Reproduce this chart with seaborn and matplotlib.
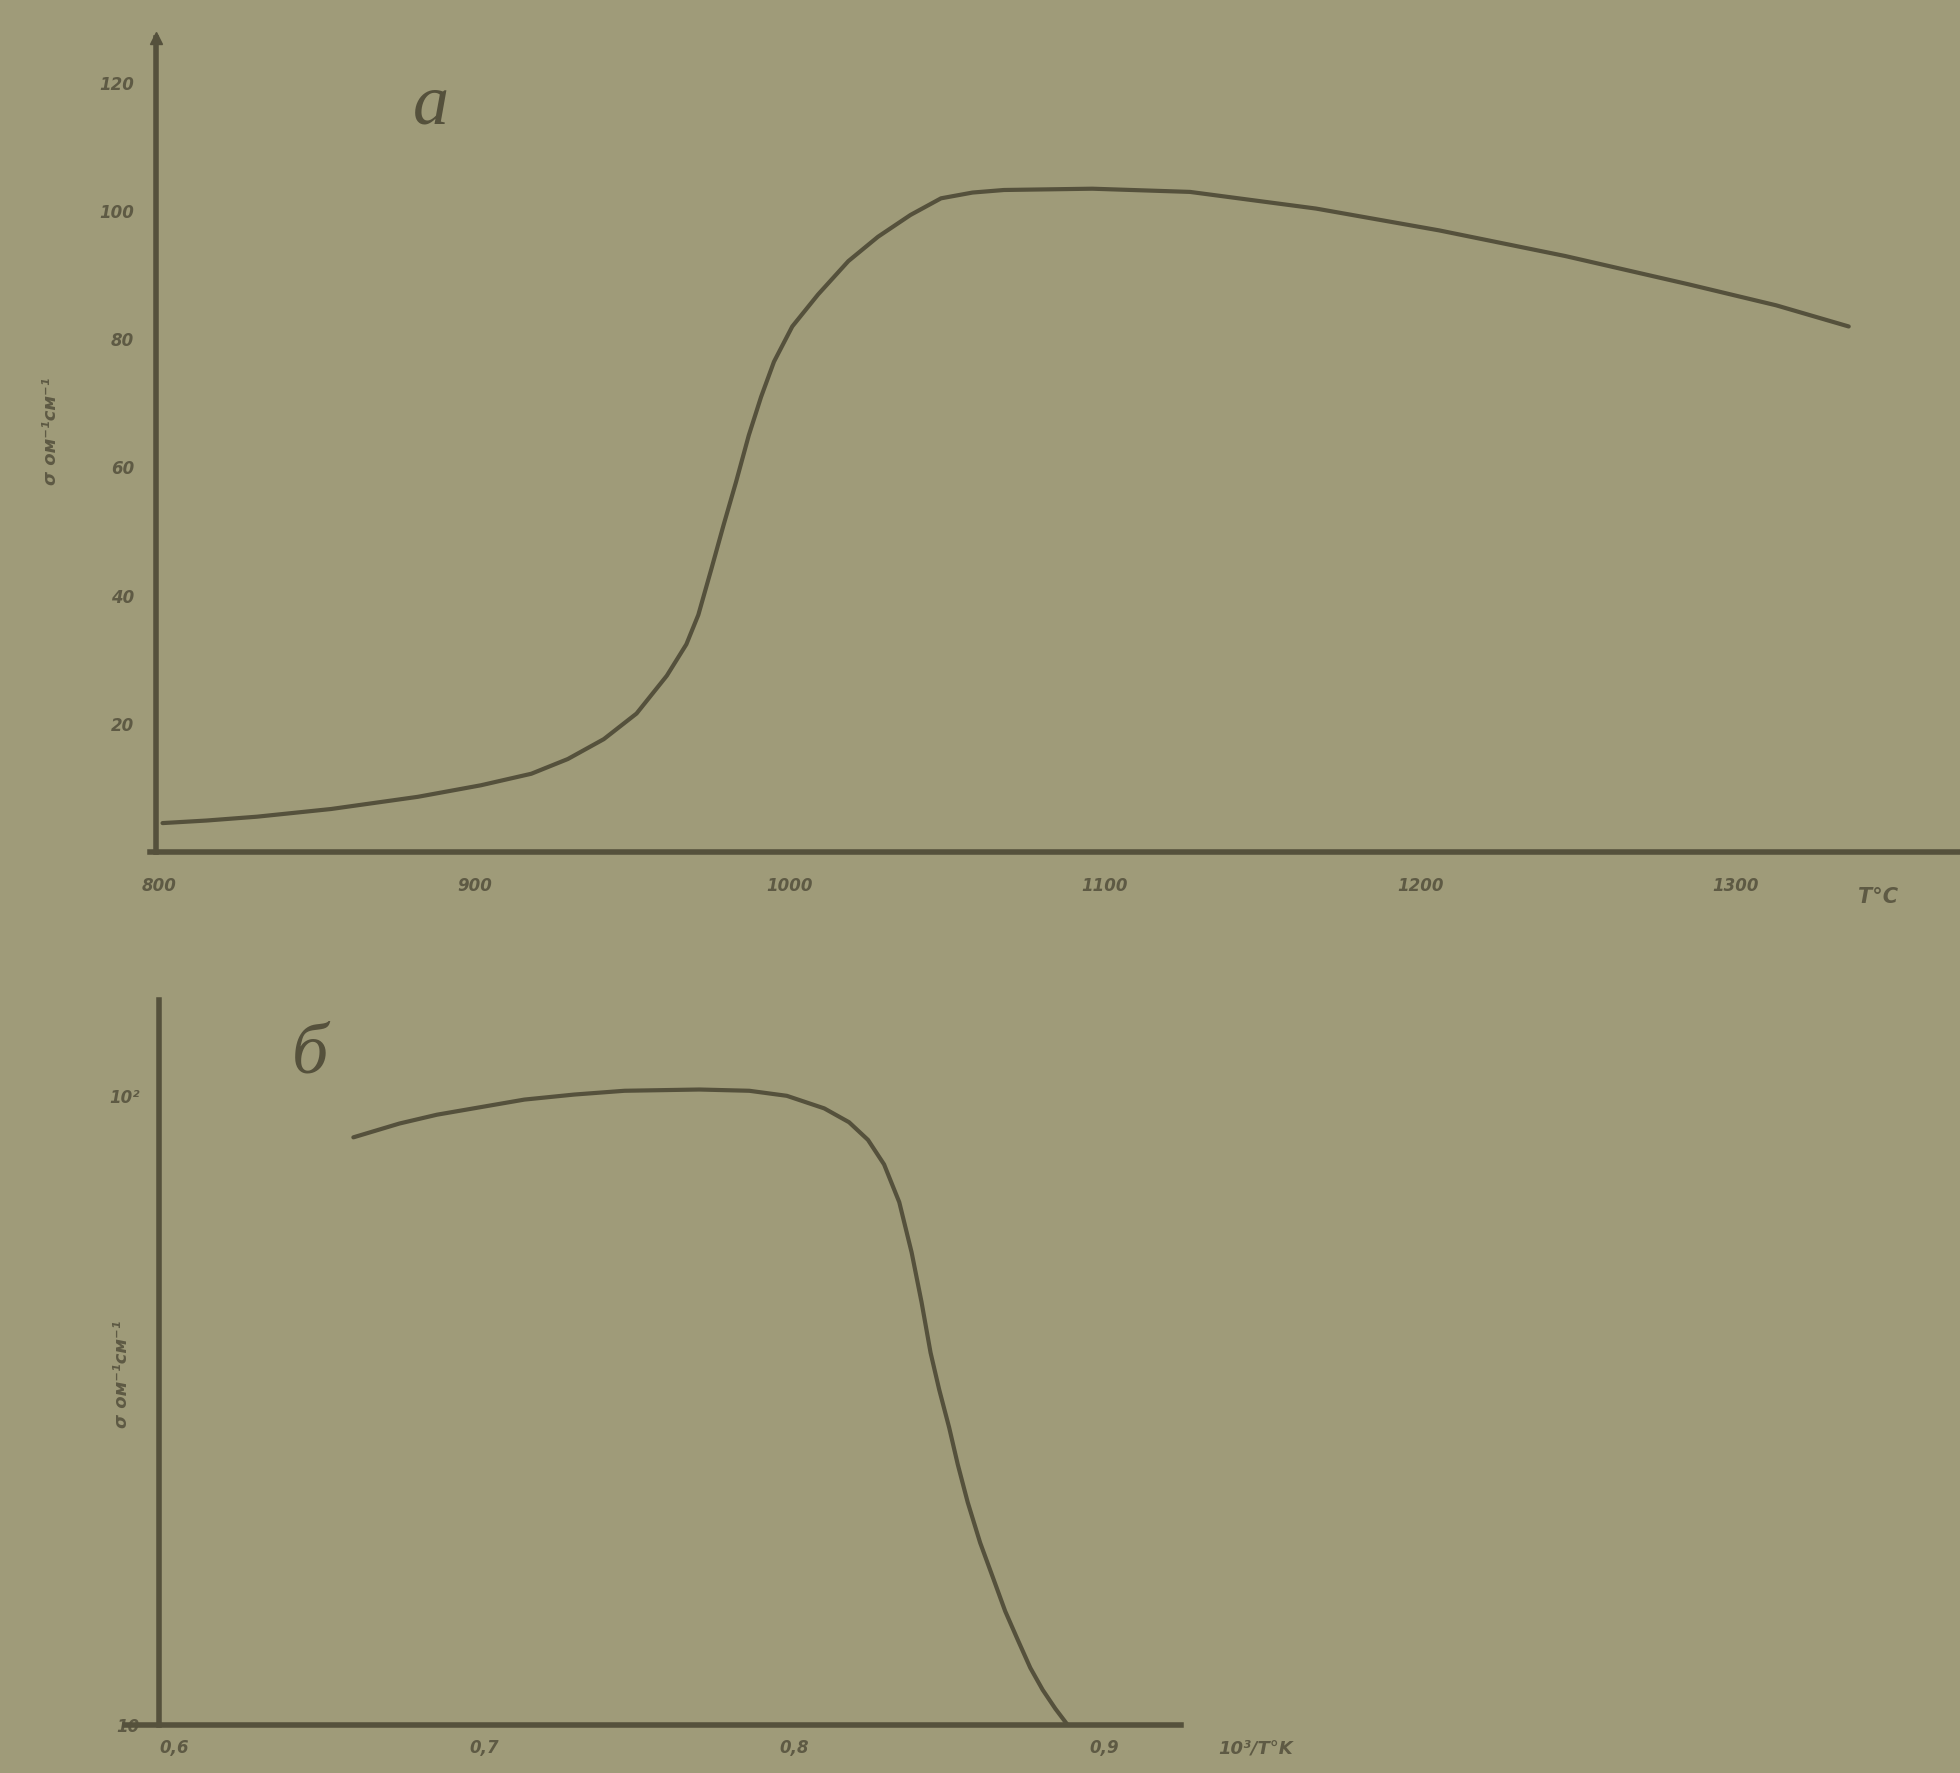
import numpy as np
import pandas as pd
import matplotlib
matplotlib.use("Agg")
import matplotlib.pyplot as plt
import seaborn as sns

# ---- data ----
temp_c = [801, 815, 831, 854.5, 882, 902, 918, 929.6, 941, 951.4, 961, 967.2,
          971, 975.1, 979, 983, 987, 990.9, 995, 1000.8, 1009, 1018.6, 1028,
          1038.3, 1048, 1058, 1068, 1096, 1127, 1167, 1206, 1246, 1285, 1313,
          1336]
sigma_a = [4.5, 4.9, 5.5, 6.7, 8.6, 10.4, 12.2, 14.5, 17.6, 21.6, 27.5, 32.4,
           37, 44.1, 51, 57.8, 65, 71, 76.5, 82, 87, 92.2, 96,
           99.4, 102, 102.9, 103.3, 103.5, 103, 100.4, 97, 93, 88.6, 85.3,
           82]

inv_t = [0.6577, 0.6726, 0.6847, 0.6988, 0.7129, 0.729, 0.7452, 0.7694,
         0.7855, 0.7976, 0.8097, 0.8177, 0.8238, 0.829, 0.8339, 0.8379,
         0.8411, 0.844, 0.8468, 0.850, 0.8528, 0.856, 0.860, 0.8641, 0.8681,
         0.8722, 0.8762, 0.8802, 0.8843, 0.8883]
log_sigma_b = [1.934, 1.956, 1.970, 1.982, 1.994, 2.002, 2.008, 2.010, 2.008,
               2.000, 1.980, 1.958, 1.930, 1.891, 1.831, 1.751, 1.672, 1.592,
               1.533, 1.473, 1.414, 1.354, 1.290, 1.235, 1.181, 1.135, 1.091,
               1.056, 1.026, 1.0]

top_xticks = [800, 900, 1000, 1100, 1200, 1300]
top_xticklabels = ["800", "900", "1000", "1100", "1200", "1300"]
top_yticks = [20, 40, 60, 80, 100, 120]
top_yticklabels = ["20", "40", "60", "80", "100", "120"]
bot_xticks = [0.6, 0.7, 0.8, 0.9]
bot_xticklabels = ["0,6", "0,7", "0,8", "0,9"]
bot_yticks = [10, 100]
bot_yticklabels = ["10", "10²"]

df_a = pd.DataFrame({"T": temp_c, "sigma": sigma_a})
df_b = pd.DataFrame({"x": inv_t, "sigma": [10 ** v for v in log_sigma_b]})

sns.set_style("white")
plt.rcParams['font.family'] = ['DejaVu Sans']

BG = "#9f9b79"
INK = "#55513c"
TXT = "#5e5a44"

fig = plt.figure(figsize=(19.6, 17.73), dpi=100, facecolor=BG)

# ---------- panel a ----------
ax1 = fig.add_axes([0.0765, 0.5195, 0.923, 0.459])
ax1.set_facecolor(BG)
sns.lineplot(data=df_a, x="T", y="sigma", ax=ax1, color=INK, linewidth=3.0)
ax1.set_xlim(797, 1371)
ax1.set_ylim(0, 127)
for s in ["top", "right"]:
    ax1.spines[s].set_visible(False)
for s in ["left", "bottom"]:
    ax1.spines[s].set_color(INK)
    ax1.spines[s].set_linewidth(4)
ax1.spines["left"].set_position(("data", 799))
ax1.plot([799], [1.0], marker="^", markersize=9, color=INK,
         transform=ax1.get_xaxis_transform(), clip_on=False)
ax1.set_xticks(top_xticks)
ax1.set_xticklabels(top_xticklabels, fontsize=12, style="italic",
                    fontweight="bold", color=TXT)
ax1.set_yticks(top_yticks)
ax1.set_yticklabels(top_yticklabels, fontsize=12, style="italic",
                    fontweight="bold", color=TXT)
ax1.tick_params(axis="y", direction="out", length=6, width=1.5, color=INK, pad=10)
ax1.tick_params(axis="x", length=0, pad=18)
ax1.set_xlabel("")
ax1.set_ylabel("")
fig.text(0.026, 0.757, "σ ом⁻¹см⁻¹", rotation=90,
         fontsize=13, style="italic", fontweight="bold", color=TXT,
         ha="center", va="center")
ax1.text(1339, -0.055, "T°C", transform=ax1.get_xaxis_transform(),
         fontsize=15, style="italic", fontweight="bold", color=TXT,
         ha="left", va="center")
fig.text(0.22, 0.94, "a", fontsize=52, style="italic",
         family="Liberation Serif", color=INK, ha="center", va="center")

# ---------- panel б ----------
ax2 = fig.add_axes([0.0638, 0.027, 0.539, 0.409])
ax2.set_facecolor("none")
sns.lineplot(data=df_b, x="x", y="sigma", ax=ax2, color=INK, linewidth=3.0)
ax2.set_yscale("log")
ax2.set_xlim(0.584, 0.925)
ax2.set_ylim(10, 142)
for s in ["top", "right"]:
    ax2.spines[s].set_visible(False)
for s in ["left", "bottom"]:
    ax2.spines[s].set_color(INK)
    ax2.spines[s].set_linewidth(4)
ax2.spines["left"].set_position(("data", 0.595))
ax2.set_xticks(bot_xticks)
ax2.set_xticklabels(bot_xticklabels, fontsize=12, style="italic",
                    fontweight="bold", color=TXT)
ax2.set_yticks(bot_yticks)
ax2.set_yticklabels(bot_yticklabels, fontsize=12, style="italic",
                    fontweight="bold", color=TXT)
ax2.yaxis.set_minor_locator(matplotlib.ticker.NullLocator())
ax2.tick_params(axis="y", direction="out", length=6, width=1.5, color=INK, pad=8)
ax2.tick_params(axis="x", direction="in", length=6, width=1.5, color=INK, pad=10)
ax2.set_xlabel("")
ax2.set_ylabel("")
fig.text(0.062, 0.225, "σ ом⁻¹см⁻¹", rotation=90,
         fontsize=13, style="italic", fontweight="bold", color=TXT,
         ha="center", va="center")
ax2.text(0.937, -0.032, "10³/T°K", transform=ax2.get_xaxis_transform(),
         fontsize=13, style="italic", fontweight="bold", color=TXT,
         ha="left", va="center")
fig.text(0.158, 0.405, "б", fontsize=52, style="italic",
         family="Liberation Serif", color=INK, ha="center", va="center")

fig.savefig("out.png", dpi=100, facecolor=BG)
